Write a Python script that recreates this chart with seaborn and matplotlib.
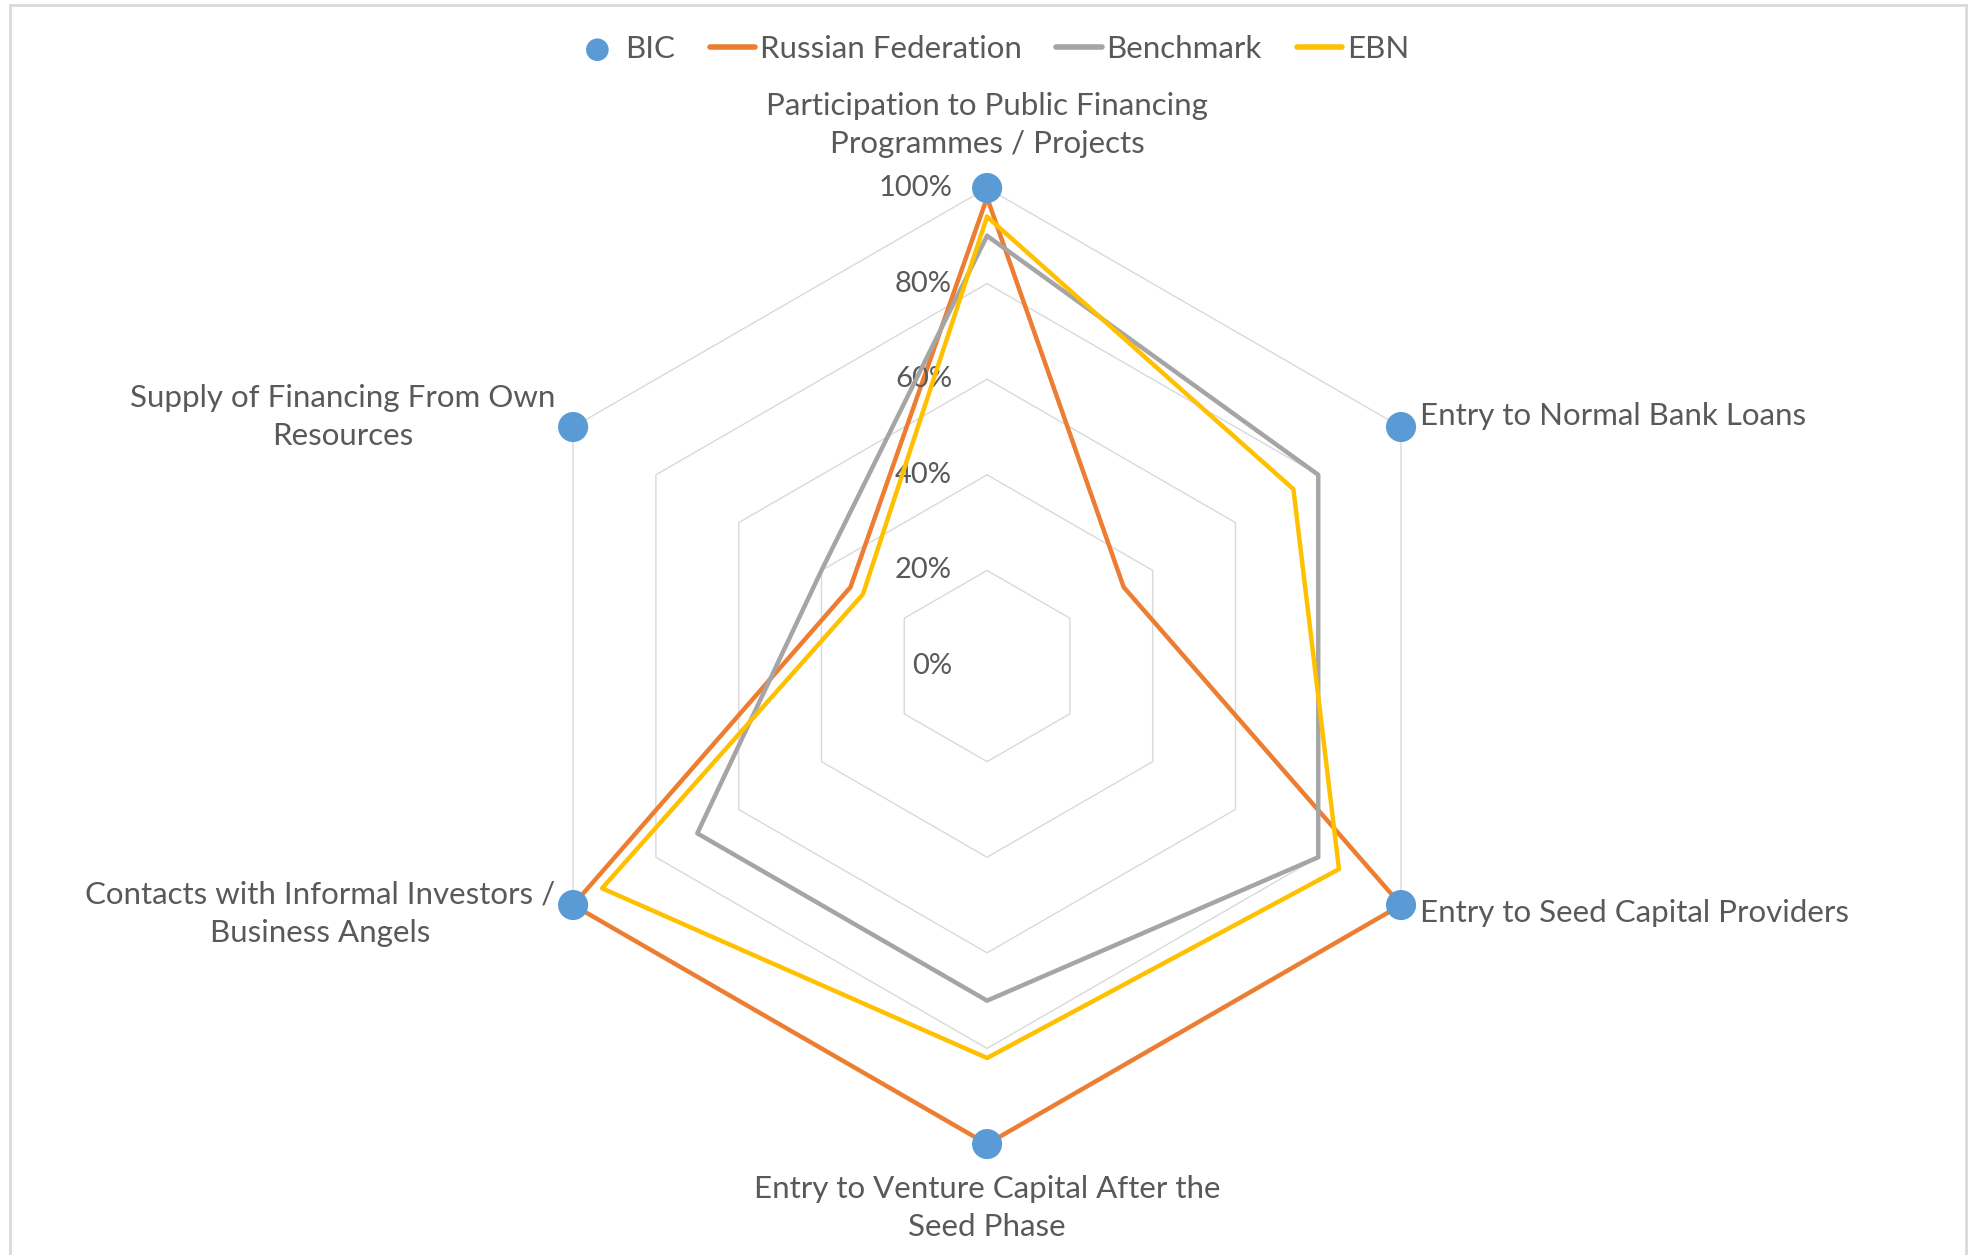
import numpy as np
import seaborn as sns
import matplotlib
matplotlib.use('Agg')
import matplotlib.pyplot as plt

# axes of the radar, clockwise from the top
categories = [
    "Participation to Public Financing\nProgrammes / Projects",
    "Entry to Normal Bank Loans",
    "Entry to Seed Capital Providers",
    "Entry to Venture Capital After the\nSeed Phase",
    "Contacts with Informal Investors /\nBusiness Angels",
    "Supply of Financing From Own\nResources",
]
bic = [1.00, 1.00, 1.00, 1.00, 1.00, 1.00]
russia = [0.98, 0.33, 1.00, 1.00, 1.00, 0.33]
benchmark = [0.90, 0.80, 0.80, 0.70, 0.70, 0.40]
ebn = [0.94, 0.74, 0.85, 0.82, 0.93, 0.30]
grid_levels = [0.2, 0.4, 0.6, 0.8, 1.0]
tick_levels = [0.0, 0.2, 0.4, 0.6, 0.8, 1.0]

sns.set_theme(style="white")
plt.rcParams['font.family'] = ['Lato', 'DejaVu Sans']
txt = '#595959'
fs = 22.5

fig = plt.figure(figsize=(19.7, 12.55), dpi=100)
ax = fig.add_axes([0.2584, 0.0884, 0.4853, 0.7618], projection='polar')
ax.set_theta_offset(np.pi / 2)
ax.set_theta_direction(-1)
ax.set_ylim(0, 1)
ax.set_xticks([])
ax.set_yticks([])
ax.grid(False)
ax.spines['polar'].set_visible(False)
ax.set_facecolor('none')

n = len(categories)
theta = np.linspace(0, 2 * np.pi, n + 1)

# hexagonal grid
for lv in grid_levels:
    ax.plot(theta, [lv] * (n + 1), color='#D9D9D9', lw=1.0, zorder=1)

def closed(v):
    return list(v) + [v[0]]

series = [("Russian Federation", russia, '#ED7D31'),
          ("Benchmark", benchmark, '#A5A5A5'),
          ("EBN", ebn, '#FFC000')]

sns.scatterplot(x=theta[:-1], y=bic, ax=ax, color='#5B9BD5', s=470,
                edgecolor='none', label="BIC", zorder=10, clip_on=False)
for i, (name, vals, col) in enumerate(series):
    sns.lineplot(x=theta, y=closed(vals), ax=ax, sort=False, estimator=None,
                 color=col, lw=3.2, label=name, zorder=3 + i)
ax.set_xlabel('')
ax.set_ylabel('')

# percent labels along the top axis
for lv in tick_levels:
    ax.annotate(f"{int(round(lv * 100))}%", xy=(0, lv), xytext=(-35, 0),
                textcoords='offset pixels', ha='right', va='center',
                fontsize=21, color=txt)

# category labels
offsets = [((0, 63), 'center'), ((19, 11), 'left'), ((19, -8), 'left'),
           ((0, -64), 'center'), ((-18, -9), 'right'), ((-18, 10), 'right')]
for th, lab, (off, ha) in zip(theta[:-1], categories, offsets):
    ax.annotate(lab, xy=(th, 1.0), xytext=off, textcoords='offset pixels',
                ha=ha, va='center', multialignment='center',
                fontsize=fs, color=txt, linespacing=1.45)

handles, labels = ax.get_legend_handles_labels()
ax.get_legend().remove()
leg = fig.legend(handles, labels, loc='center', bbox_to_anchor=(0.5035, 0.961),
                 ncol=4, frameon=False, fontsize=fs, handlelength=1.45,
                 handletextpad=0.15, columnspacing=1.12, markerscale=0.75)
for t in leg.get_texts():
    t.set_color(txt)
for h in leg.legend_handles[1:]:
    h.set_linewidth(4)

fig.add_artist(plt.Rectangle((10 / 1970, -0.05), 1956 / 1970, 1.046,
                             transform=fig.transFigure, fill=False,
                             ec='#D9D9D9', lw=2))

plt.savefig('out.png', dpi=100)
plt.close()
